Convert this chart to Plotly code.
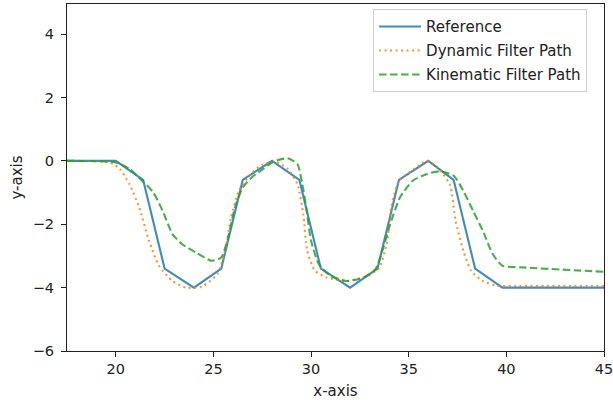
import plotly.graph_objects as go

# Reference path (piecewise linear)
ref_x = [17.5, 20.0, 21.4, 22.5, 24.0, 25.4, 26.5, 28.0, 29.4, 30.5, 32.0, 33.4, 34.5, 36.0, 37.3, 38.4, 39.8, 45.0]
ref_y = [0.0, 0.0, -0.6, -3.4, -4.0, -3.4, -0.6, 0.0, -0.6, -3.4, -4.0, -3.4, -0.6, 0.0, -0.6, -3.4, -4.0, -4.0]

# Dynamic filter path
dyn_x = [17.5, 19.0, 19.7, 20.2, 20.7, 21.2, 21.7, 22.2, 22.9, 23.6, 24.4, 25.2, 25.6, 25.9, 26.3, 26.9, 27.5, 28.2,
         28.8, 29.3, 29.6, 29.8, 30.2, 30.8, 31.8, 32.9, 33.5, 33.9, 34.1, 34.5, 35.4, 35.9, 36.4,
         37.1, 37.4, 37.8, 38.2, 38.8, 39.5, 40.5, 45.0]
dyn_y = [0.0, -0.01, -0.05, -0.25, -0.74, -1.47, -2.52, -3.3, -3.79, -4.0, -3.97, -3.57, -2.84, -1.79, -0.95, -0.42, -0.12, -0.03,
         -0.25, -0.74, -1.68, -2.84, -3.47, -3.68, -3.79, -3.63, -3.36, -2.52, -1.47, -0.63, -0.21, 0.0, -0.16,
         -0.74, -1.89, -2.84, -3.47, -3.79, -3.94, -3.95, -3.95]

# Kinematic filter path
kin_x = [17.5, 19.0, 20.0, 20.7, 21.35, 21.9, 22.4, 22.9, 23.4, 24.1, 24.9, 25.4, 25.75, 26.1, 26.5, 27.0, 27.45,
         28.1, 28.8, 29.3, 29.55, 29.75, 30.0, 30.4, 31.0, 31.8, 32.7, 33.3, 33.7, 34.05, 34.55, 35.2, 35.9,
         36.6, 37.3, 37.8, 38.3, 38.8, 39.3, 39.8, 40.8, 45.0]
kin_y = [0.0, -0.01, -0.05, -0.25, -0.63, -0.98, -1.58, -2.31, -2.63, -2.89, -3.15, -3.05, -2.42, -1.47, -0.84, -0.5, -0.3,
         -0.02, 0.08, -0.1, -0.74, -1.47, -2.52, -3.26, -3.63, -3.79, -3.68, -3.42, -2.73, -2.0, -1.16, -0.63, -0.42,
         -0.33, -0.47, -0.95, -1.58, -2.21, -2.94, -3.31, -3.36, -3.5]

x_ticks = [20, 25, 30, 35, 40, 45]
y_ticks = [-6, -4, -2, 0, 2, 4]

font = "DejaVu Sans"
fs = 15
tfs = 14.5

fig = go.Figure()
fig.add_trace(go.Scatter(x=ref_x, y=ref_y, mode="lines", name="Reference", legendgroup="a",
                         line=dict(color="rgba(31,119,180,0.85)", width=2.1)))
fig.add_trace(go.Scatter(x=dyn_x, y=dyn_y, mode="lines", name="Dynamic Filter Path", legendgroup="b",
                         line=dict(color="rgba(255,127,14,0.85)", width=2.1, dash="2px,3.5px", shape="spline", smoothing=0.6)))
fig.add_trace(go.Scatter(x=kin_x, y=kin_y, mode="lines", name="Kinematic Filter Path", legendgroup="c",
                         line=dict(color="rgba(44,160,44,0.85)", width=2.1, dash="7.5px,3.5px", shape="spline", smoothing=0.6)))

axis_common = dict(showgrid=False, zeroline=False, showline=True, linecolor="#222", linewidth=1.1,
                   mirror=True, ticks="outside", ticklen=5, tickwidth=1.1, tickcolor="#222",
                   automargin=False, ticklabeloverflow="allow",
                   tickfont=dict(family=font, size=tfs, color="#222"))

fig.update_layout(
    width=613, height=402,
    margin=dict(l=67, r=9, t=4, b=51),
    paper_bgcolor="white", plot_bgcolor="white",
    showlegend=True,
    legend=dict(x=0.57, y=0.985, xanchor="left", yanchor="top",
                bgcolor="rgba(255,255,255,0.8)", bordercolor="#d0d0d0", borderwidth=1,
                font=dict(family=font, size=fs, color="#222"), tracegroupgap=1.5, itemwidth=42),
    xaxis=dict(range=[17.5, 45], tickvals=x_ticks, **axis_common,
               title=dict(text="x-axis", font=dict(family=font, size=fs, color="#222"), standoff=9)),
    yaxis=dict(range=[-6, 4.95], tickvals=y_ticks, **axis_common, ticklabelstandoff=4,
               title=dict(text="y-axis", font=dict(family=font, size=fs, color="#222"), standoff=6)),
)

fig.write_html("out.html", config={"displayModeBar": False},
               post_script="document.body.style.margin='0';document.body.style.overflow='hidden';")
